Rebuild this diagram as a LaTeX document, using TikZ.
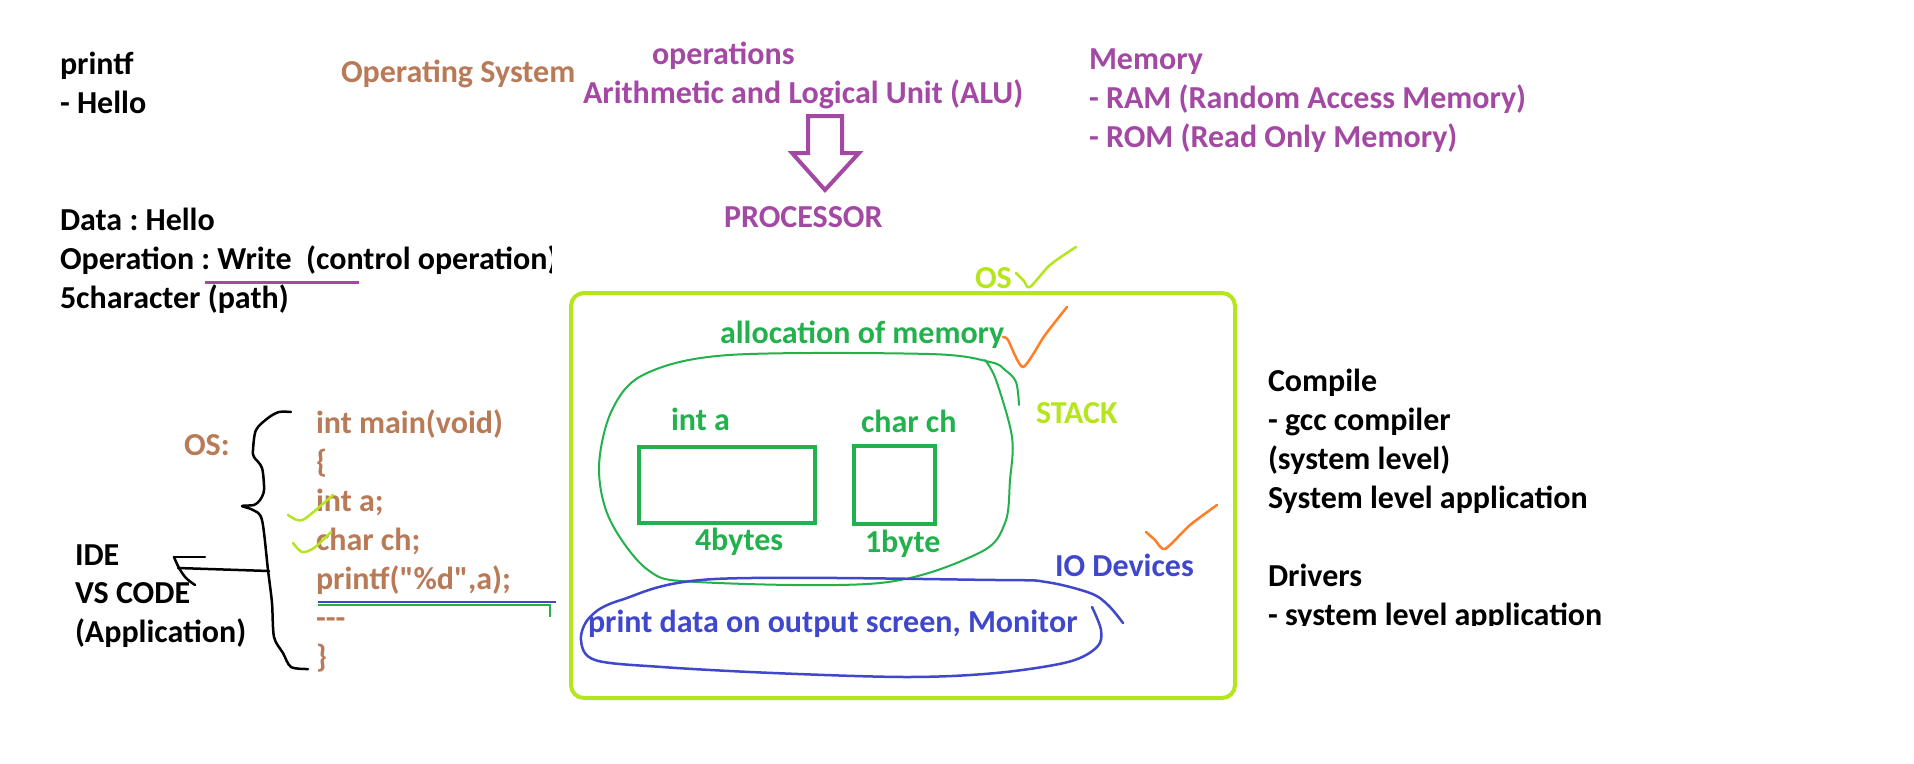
\documentclass[tikz,border=0pt]{standalone}
\usepackage{fontspec}
\setmainfont{Carlito}[Ligatures=TeXOff]
\frenchspacing
\definecolor{pbrown}{RGB}{185,122,87}
\definecolor{ppurple}{RGB}{163,73,164}
\definecolor{plime}{RGB}{181,230,29}
\definecolor{pgreen}{RGB}{34,177,76}
\definecolor{pindigo}{RGB}{63,72,204}
\definecolor{porange}{RGB}{255,127,39}
\begin{document}
\begin{tikzpicture}[x=1pt,y=-1pt,
  txt/.style={inner sep=0pt, outer sep=0pt, anchor=base west, font=\fontsize{32}{39}\selectfont\bfseries\frenchspacing},
  hand/.style={line width=2.5pt, line cap=round, line join=round},
  thin hand/.style={line width=2pt, line cap=round, line join=round},
  membox/.style={draw=pgreen, line width=4pt, inner sep=0pt, outer sep=0pt},
]
\useasboundingbox (0,0) rectangle (1914,763);
\fill[white] (0,0) rectangle (1914,763);

% top left
\node[txt] (printf) at (60,74) {printf};
\node[txt] (hello) at (60,113) {- Hello};
\node[txt] (data) at (60,230) {Data : Hello};
\begin{scope}
  \clip (0,240) rectangle (551,300);
  \node[txt] (oper) at (60,269) {Operation : Write\ \ (control operation)};
\end{scope}
\node[txt] (fivech) at (60,308) {5character (path)};
\draw[ppurple, line width=3pt] (205,282) -- (359,282);

% top middle
\node[txt, text=pbrown] (opsys) at (341,82) {Operating System};
\node[txt, text=ppurple] (opers) at (652,64) {operations};
\node[txt, text=ppurple] (alu) at (583,103) {Arithmetic and Logical Unit (ALU)};
\node[txt, text=ppurple] (proc) at (724,227) {PROCESSOR};
\draw[ppurple, line width=4pt, line join=miter, fill=white]
  (808,116) -- (842,116) -- (842,153) -- (859,153) -- (825,190) -- (792,153) -- (808,153) -- cycle;

% memory
\node[txt, text=ppurple] (mem) at (1089,69) {Memory};
\node[txt, text=ppurple] (ram) at (1089,108) {- RAM (Random Access Memory)};
\node[txt, text=ppurple] (rom) at (1089,147) {- ROM (Read Only Memory)};

% OS box
\node[draw=plime, line width=4pt, rounded corners=13pt, minimum width=664pt, minimum height=405pt, inner sep=0pt] (osbox) at (903,495.5) {};
\node[txt, text=plime] (ostitle) at (975,288) {OS};
\draw[plime, hand] plot[smooth, tension=0.5] coordinates {(1016,273) (1024,281) (1030,287) (1050,265) (1076,247)};

% stack
\node[txt, text=pgreen] (alloc) at (720,343) {allocation of memory};
\draw[porange, hand] plot[smooth, tension=0.4] coordinates {(1003,337) (1008,340) (1023,367) (1045,335) (1067,307)};
\draw[pgreen, thin hand] plot[smooth, tension=0.55] coordinates {
  (1019,405) (1016,382) (1005,370) (990,362) (929,354) (729,355) (645,374) (612,410) (599,467)
  (610,520) (648,570) (697,582) (880,583) (979,553) (1005,523) (1010,480) (1012,437) (996,380) (985,360)};
\node[txt, text=plime] (stack) at (1036,423) {STACK};
\node[txt, text=pgreen] (inta) at (671,430) {int a};
\node[txt, text=pgreen] (charch) at (861,432) {char ch};
\node[membox, minimum width=176pt, minimum height=76pt] (boxa) at (727,485) {};
\node[membox, minimum width=81pt, minimum height=78pt] (boxch) at (894.5,485) {};
\node[txt, text=pgreen] (fourb) at (695,550) {4bytes};
\node[txt, text=pgreen] (oneb) at (865,552) {1byte};

% IO
\draw[porange, hand] plot[smooth, tension=0.4] coordinates {(1146,532) (1155,540) (1165,549) (1190,525) (1217,505)};
\node[txt, text=pindigo] (io) at (1055,576) {IO Devices};
\draw[pindigo, line width=2.5pt, line cap=round, line join=round] plot[smooth, tension=0.55] coordinates {
  (1092,607) (1101,630) (1097,647) (1068,662) (996,673) (907,677) (773,673) (662,667) (595,660)
  (581,640) (590,617) (621,600) (715,579) (996,580) (1046,582) (1090,593) (1108,605) (1123,623)};
\node[txt, text=pindigo] (printdata) at (588,632) {print data on output screen, Monitor};

% code
\node[txt, text=pbrown] (osc) at (184,455) {OS:};
\node[txt, text=pbrown] (c1) at (316,433) {int main(void)};
\node[txt, text=pbrown] (c2) at (316,472) {\{};
\node[txt, text=pbrown] (c3) at (316,511) {int a;};
\node[txt, text=pbrown] (c4) at (316,550) {char ch;};
\node[txt, text=pbrown] (c5) at (316,589) {printf("\%d",a);};
\node[txt, text=pbrown] (c6) at (316,628) {-\kern0pt-\kern0pt-};
\node[txt, text=pbrown] (c7) at (316,667) {\}};
\draw[plime, hand] plot[smooth, tension=0.5] coordinates {(288,515) (297,520) (306,518) (333,495)};
\draw[plime, hand] plot[smooth, tension=0.5] coordinates {(293,543) (302,552) (314,548) (331,532)};
\draw[pindigo, line width=2.5pt] (318,602) -- (556,602);
\draw[pgreen, line width=2pt] (318,605) -- (551,605);
\draw[pgreen, line width=2.5pt] (550,605) -- (550,617);

% brace and arrow
\draw[black, hand] plot[smooth, tension=0.5] coordinates {
  (291,412) (279,412) (268,418) (256,430) (253,450) (254,457) (262,468) (264,490) (260,500) (254,505)
  (242,506) (253,510) (262,520) (268,570) (272,603) (274,637) (283,653) (291,667) (308,669)};
\coordinate (bracemid) at (269,571);
\coordinate (ideend) at (178,568);
\draw[black, hand] (bracemid) -- (ideend);
\draw[black, hand] (205,557) -- (174,557);
\draw[black, hand] plot[smooth, tension=0.5] coordinates {(174,557) (179,568) (186,578) (195,585)};
\node[txt] (ide) at (75,565) {IDE};
\node[txt] (vscode) at (75,603) {VS CODE};
\node[txt] (appl) at (75,642) {(Application)};

% right side
\node[txt] (comp) at (1268,391) {Compile};
\node[txt] (gcc) at (1268,430) {- gcc compiler};
\node[txt] (syslev) at (1268,469) {(system level)};
\node[txt] (sysapp) at (1268,508) {System level application};
\node[txt] (drv) at (1268,586) {Drivers};
\begin{scope}
  \clip (1200,590) rectangle (1914,625.5);
  \node[txt] (drvapp) at (1268,625) {- system level application};
\end{scope}
\end{tikzpicture}
\end{document}
